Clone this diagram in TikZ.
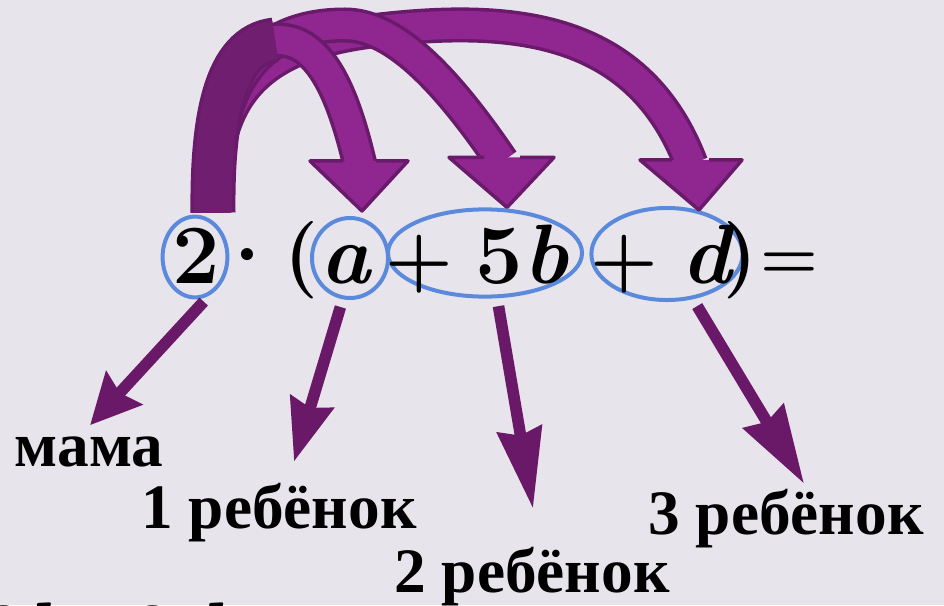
\documentclass[tikz,border=0pt]{standalone}
\usepackage{amsmath,amssymb}
\usepackage{fontspec}
\usepackage{tikz}
\usetikzlibrary{arrows.meta,positioning,shapes.geometric,calc}
\usepackage{xcolor}
\newfontfamily\kidfont{Liberation Serif}
\definecolor{slidebg}{RGB}{232,228,236}
\definecolor{ringblue}{RGB}{91,138,221}
\definecolor{arcline}{RGB}{106,26,106}
\definecolor{arcfill}{RGB}{144,38,144}
\definecolor{tailfill}{RGB}{112,30,112}
\definecolor{pointerline}{RGB}{106,24,104}

\begin{document}
\begin{tikzpicture}[
    x=0.025cm,y=-0.025cm,
    ring/.style={draw=ringblue,line width=0.1cm,ellipse,inner sep=0pt},
    glyph/.style={anchor=base,inner sep=0pt,font=\fontsize{60}{66}\selectfont\bfseries},
    kid/.style={anchor=base,inner sep=2pt,font=\kidfont\bfseries\fontsize{45}{50}\selectfont},
    arc/.style={draw=arcline,line width=0.0875cm,double=arcfill,double distance=0.7cm},
    tail/.style={draw=arcline,line width=0.0875cm,double=tailfill,double distance=0.95cm},
    archead/.style={fill=arcfill,draw=arcline,line width=0.0875cm,line join=round},
    pointer/.style={draw=pointerline,line width=0.29cm,shorten <=0.2cm}
  ]
  \useasboundingbox (0,0) rectangle (944,605);
  \fill[slidebg] (0,0) rectangle (944,605);

  % rings round the factors
  \node[ring,minimum width=1.62cm,minimum height=2.02cm] (two) at (195,257) {};
  \node[ring,minimum width=1.9cm,minimum height=2cm] (a) at (350,258) {};
  \node[ring,minimum width=4.85cm,minimum height=2.18cm] (fiveb) at (485,253) {};
  \node[ring,minimum width=3.78cm,minimum height=2.3cm] (d) at (667,254) {};

  % the product
  \node[glyph] (g2) at (196,283) {2};
  \node[glyph] (gdot) at (247,283) {·};
  \node[glyph,font=\fontsize{55}{60}\selectfont\bfseries] (gopen) at (301,279) {(};
  \node[glyph] (ga) at (345,283) {\itshape a};
  \node[glyph,font=\fontsize{55}{60}\selectfont\bfseries] (gplusb) at (419,283) {+};
  \node[glyph] (g5b) at (522,283) {5\itshape b};
  \node[glyph,font=\fontsize{55}{60}\selectfont\bfseries] (gplusd) at (624,283) {+};
  \node[glyph] (gd) at (706,283) {\itshape d};
  \node[glyph,font=\fontsize{55}{60}\selectfont\bfseries] (gclose) at (740,279) {)};
  \node[glyph,font=\fontsize{47}{50}\selectfont\bfseries] (geq) at (789,278) {=};
  \node[glyph,anchor=base east,font=\fontsize{54}{60}\selectfont\bfseries] (rest) at (224,655) {10\textit{b}+2\textit{d}};

  % who is who
  \node[kid] (mama) at (89,466) {мама};
  \node[kid] (kid1) at (279,528) {1 ребёнок};
  \node[kid] (kid2) at (532,592) {2 ребёнок};
  \node[kid] (kid3) at (786,534) {3 ребёнок};

  % big arcs from the 2
  \coordinate (root) at ($(two.north)+(18,-2)$);
  \coordinate (tipa) at ($(a.north)+(12,-5)$);
  \coordinate (tipb) at ($(fiveb.north)+(22,0)$);
  \coordinate (tipd) at ($(d.north)+(32,4)$);
  \draw[arc] (root) .. controls (212,110) and (240,45) .. (380,30)
    .. controls (520,14) and (640,30) .. ($(tipd)+(-8,-46)$);
  \draw[arc] (root) .. controls (213,90) and (250,25) .. (345,25)
    .. controls (390,25) and (440,70) .. ($(tipb)+(-5,-46)$);
  \draw[arc] (root) .. controls (212,120) and (225,45) .. (275,40)
    .. controls (315,38) and (340,80) .. ($(tipa)+(-2,-46)$);
  \draw[tail] (root) .. controls (212,120) and (225,45) .. (275,40);
  \draw[archead] ($(tipa)+(-19,-50)$) -- ($(tipa)+(-52,-50)$) -- (tipa) -- ($(tipa)+(46,-50)$) -- ($(tipa)+(14,-50)$);
  \draw[archead] ($(tipb)+(-23,-50)$) -- ($(tipb)+(-58,-50)$) -- (tipb) -- ($(tipb)+(47,-50)$) -- ($(tipb)+(13,-50)$);
  \draw[archead] ($(tipd)+(-27,-50)$) -- ($(tipd)+(-59,-50)$) -- (tipd) -- ($(tipd)+(43,-50)$) -- ($(tipd)+(10,-50)$);

  % pointers to the family
  \draw[pointer,-{Stealth[length=1.25cm,width=1.2cm,inset=0.15cm]}] (two.-70) -- ($(mama.north)+(1,-8)$);
  \draw[pointer,-{Stealth[length=1.55cm,width=1.1cm,inset=0.15cm]}] (a.-100) -- ($(kid1.north)+(15,-18)$);
  \draw[pointer,-{Stealth[length=2cm,width=1.1cm,inset=0.15cm]}] (fiveb.-75) -- ($(kid2.north)+(1,-35)$);
  \draw[pointer,-{Stealth[length=1.95cm,width=1.15cm,inset=0.15cm]}] (d.-60) -- ($(kid3.north)+(18,-2)$);
\end{tikzpicture}
\end{document}
